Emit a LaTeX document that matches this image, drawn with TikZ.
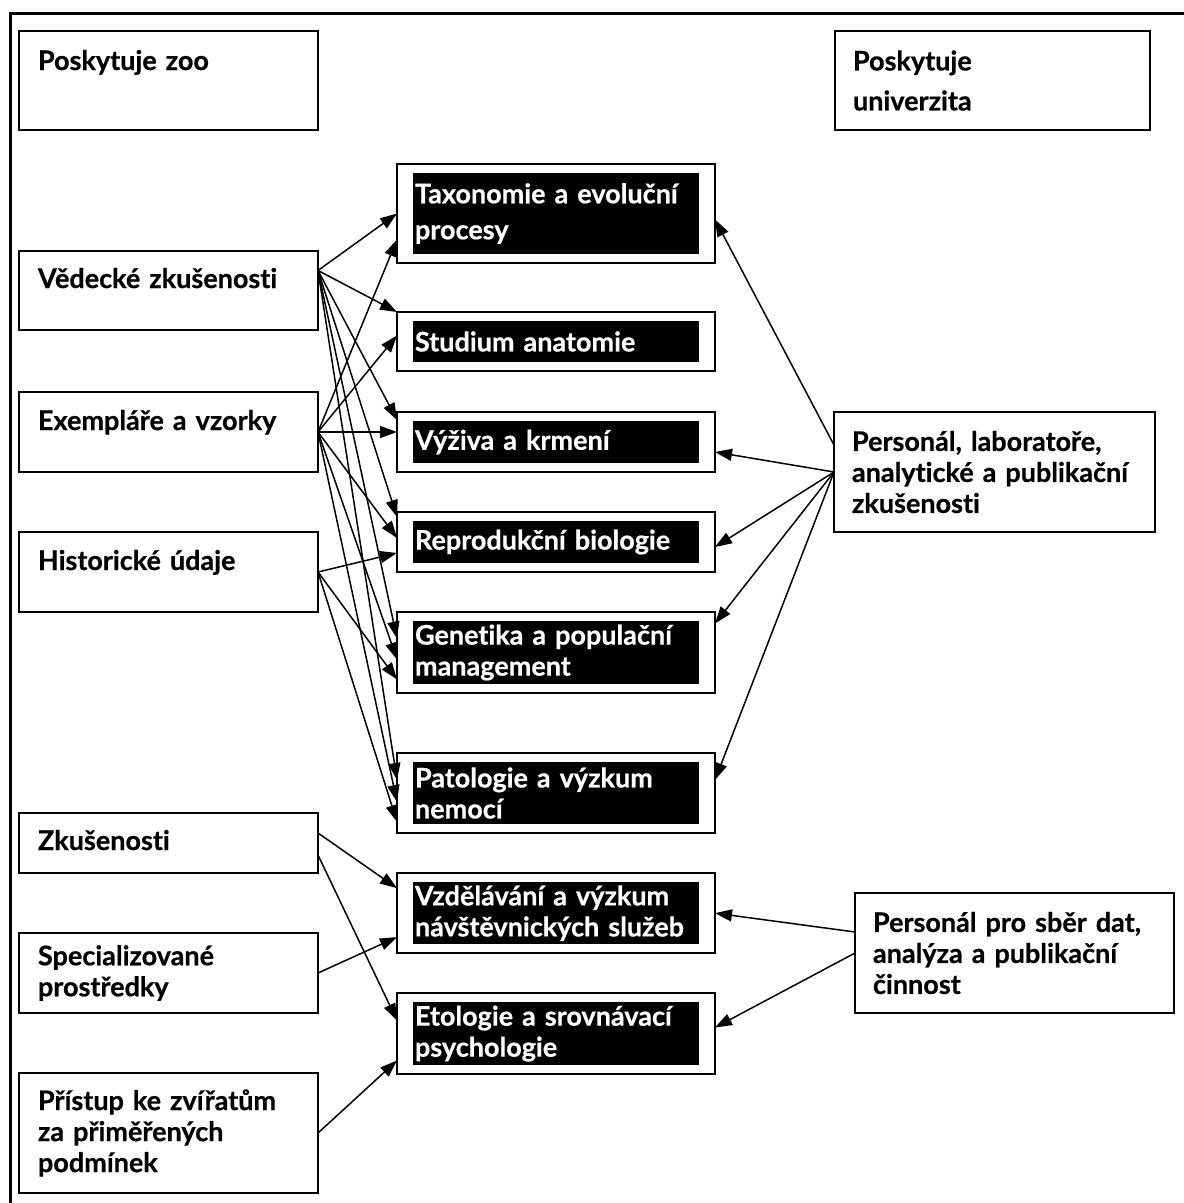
\documentclass[tikz,border=0pt]{standalone}
\usepackage{fontspec}
\setmainfont{Lato}[Ligatures=NoCommon,BoldFeatures={FakeBold=0.6}]
\usetikzlibrary{arrows.meta,positioning,fit}

\begin{document}
\begin{tikzpicture}[
        x=1pt, y=-1pt,
        font=\bfseries\fontsize{27}{31}\selectfont,
        box/.style={rectangle,draw,line width=1.8pt,outer sep=0pt,minimum width=299pt,text width=261pt,inner xsep=19pt,align=left},
        ubox/.style={box,minimum width=321pt,text width=285pt,inner xsep=18pt},
        lift/.style={text height=20pt,text depth=#1},
        area/.style={rectangle,fill=black,text=white,outer sep=0pt,minimum width=286pt,text width=282pt,inner xsep=2pt,align=left},
        frame/.style={rectangle,draw,line width=1.8pt,inner xsep=16pt,inner ysep=9pt,outer sep=0pt},
        arrow/.style={-{Triangle[length=17pt,width=12pt]},line width=1.5pt}
    ]
        \useasboundingbox (0,0) rectangle (1184,1203);
        \draw[line width=3pt] (10,1203) -- (10,13) -- (1184,13);

        % zoo side
        \node[box, minimum height=99pt, lift=41pt] (zoo) at (168.5,80.5) {Poskytuje zoo};
        \node[box, minimum height=79pt, lift=25pt, below=121pt of zoo] (ved) {Vědecké zkušenosti};
        \node[box, minimum height=80pt, lift=24pt, below=62pt of ved] (exe) {Exempláře a vzorky};
        \node[box, minimum height=80pt, lift=24pt, below=60pt of exe] (his) {Historické údaje};
        \node[box, minimum height=60pt, lift=6pt, below=201pt of his] (zku) {Zkušenosti};
        \node[box, minimum height=80pt, below=60pt of zku] (spe) {Specializované\\prostředky};
        \node[box, minimum height=120pt, below=60pt of spe] (pri) {Přístup ke zvířatům\\za přiměřených\\podmínek};

        % university side
        \node[ubox, minimum width=315pt, text width=279pt, minimum height=99pt] (uni) at (992.5,80.5) {Poskytuje\\[9pt]univerzita};
        \node[ubox, minimum height=120pt] (lab) at (994.5,472) {Personál, laboratoře,\\analytické a publikační\\zkušenosti};
        \node[ubox, minimum width=319pt, text width=283pt, minimum height=120pt] (sber) at (1014.5,953) {Personál pro sběr dat,\\analýza a publikační\\činnost};

        % research areas
        \node[area, minimum height=81pt] (tax) at (556,213.5) {Taxonomie a evoluční\\[5pt]procesy};
        \node[area, minimum height=41pt, below=67pt of tax] (stu) {Studium anatomie};
        \node[area, minimum height=42pt, below=59pt of stu] (vyz) {Výživa a krmení};
        \node[area, minimum height=42pt, below=58pt of vyz] (rep) {Reprodukční biologie};
        \node[area, minimum height=63pt, below=58pt of rep] (gen) {Genetika a populační\\management};
        \node[area, minimum height=62pt, below=78pt of gen] (pat) {Patologie a výzkum\\nemocí};
        \node[area, minimum height=62pt, below=58pt of pat] (vzd) {Vzdělávání a výzkum\\návštěvnických služeb};
        \node[area, minimum height=62pt, below=58pt of vzd] (eto) {Etologie a srovnávací\\psychologie};

        \node[frame, fit=(tax)] (taxF) {};
        \node[frame, fit=(stu)] (stuF) {};
        \node[frame, fit=(vyz)] (vyzF) {};
        \node[frame, fit=(rep)] (repF) {};
        \node[frame, fit=(gen)] (genF) {};
        \node[frame, fit=(pat)] (patF) {};
        \node[frame, fit=(vzd)] (vzdF) {};
        \node[frame, fit=(eto)] (etoF) {};

        \draw[arrow] ([yshift=20pt]ved.east) -- (taxF.west);
        \draw[arrow] ([yshift=20pt]ved.east) -- (stuF.north west);
        \draw[arrow] ([yshift=20pt]ved.east) -- ([yshift=22pt]vyzF.west);
        \draw[arrow] ([yshift=20pt]ved.east) -- ([yshift=25pt]repF.west);
        \draw[arrow] ([yshift=20pt]ved.east) -- ([yshift=14pt]genF.west);
        \draw[arrow] ([yshift=20pt]ved.east) -- ([yshift=13pt]patF.west);

        \draw[arrow] (exe.east) -- ([yshift=-26pt]taxF.west);
        \draw[arrow] (exe.east) -- ([yshift=6pt]stuF.west);
        \draw[arrow] (exe.east) -- ([yshift=10pt]vyzF.west);
        \draw[arrow] (exe.east) -- ([yshift=4pt]repF.west);
        \draw[arrow] (exe.east) -- ([yshift=-7pt]genF.west);
        \draw[arrow] (exe.east) -- ([yshift=-9pt]patF.west);

        \draw[arrow] (his.east) -- ([yshift=-11pt]repF.west);
        \draw[arrow] (his.east) -- ([yshift=-27pt]genF.west);
        \draw[arrow] (his.east) -- ([yshift=-29pt]patF.west);

        \draw[arrow] ([yshift=10pt]zku.east) -- ([yshift=25pt]vzdF.west);
        \draw[arrow] ([yshift=-12pt]zku.east) -- ([yshift=13pt]etoF.west);
        \draw[arrow] (spe.east) -- ([yshift=-24pt]vzdF.west);
        \draw[arrow] (pri.east) -- ([yshift=-27pt]etoF.west);

        \draw[arrow] ([yshift=27pt]lab.west) -- ([yshift=-6pt]taxF.east);
        \draw[arrow] (lab.west) -- ([yshift=-10pt]vyzF.east);
        \draw[arrow] (lab.west) -- ([yshift=-5pt]repF.east);
        \draw[arrow] (lab.west) -- ([yshift=29pt]genF.east);
        \draw[arrow] (lab.west) -- ([yshift=13pt]patF.east);
        \draw[arrow] ([yshift=21pt]sber.west) -- (vzdF.east);
        \draw[arrow] (sber.west) -- ([yshift=6pt]etoF.east);
    \end{tikzpicture}
\end{document}
